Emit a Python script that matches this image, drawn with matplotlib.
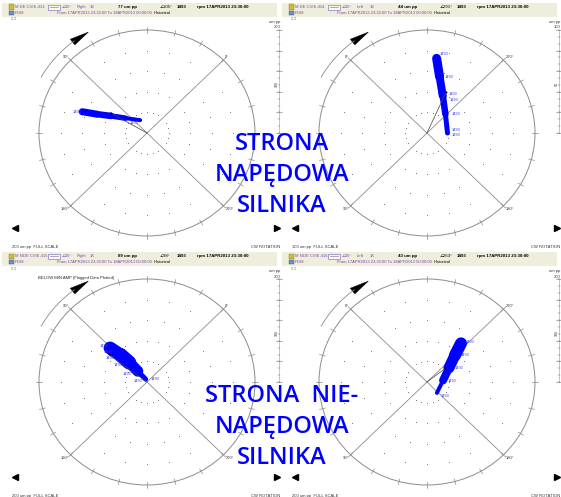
import numpy as np
import matplotlib
matplotlib.use('Agg')
import matplotlib.pyplot as plt
from matplotlib.patches import Circle, Rectangle, Polygon
from matplotlib.collections import LineCollection

W, H = 561, 497          # figure size, px
PW, PH = 280, 249        # one plot panel, px
AW = 284                 # axes width (scale bar sits just past the panel)
CX, CY = 147, 133        # polar centre inside a panel, px
RX, RY = 108, 103        # px per full scale along x / y

# ---- probe data ----
probe_names = ['M DE CVIE-413', 'M DE CVIE-414', 'M NDE CVIE-415', 'M NDE CVIE-416']
probe_side = ['Right', 'Left', 'Right', 'Left']
full_scale = [200, 100, 200, 200]          # um pp
amp_1x = [77, 44, 89, 43]                  # um pp
phase_1x = [105, 291, 98, 263]             # deg
rpm = [1493, 1493, 1493, 1493]
zero_at = [45, 135, 45, 135]               # where 0 deg sits, ccw from +x

# 1X vector history over the half hour (amplitude um pp, phase deg)
trail_amp = [
    [127, 100, 74, 49, 28],
    [73, 56, 39, 25, 19],
    [95, 72, 50, 27, 6],
    [98, 73, 49, 30, 28],
]
trail_phase = [
    [116, 113.5, 108.5, 99, 72],
    [308, 303, 293, 272, 225],
    [91, 88, 86, 84, 70],
    [275, 270, 259, 231, 176],
]

time_from = '17APR2013 23:30:00'
time_to = '18APR2013 00:00:00'

# trail thickness per segment, px
trail_px = [[7, 6.5, 5.5, 4], [9, 8, 6.5, 5], [13, 14, 11, 5], [12, 11, 8, 4]]
# where the rpm tags go along each trail: (point index, dx, dy in px, ha)
tag_spots = [
    [(0, -1, 0, 'right'), (4, -6, -3, 'center')],
    [(0, 3, 4, 'left'), (1, 5, 0, 'left'), (2, 6, 2, 'left'), (2, 7, -4, 'left'),
     (3, 6, 0, 'left'), (4, 4, 3, 'left'), (4, 4, -2, 'left')],
    [(0, -2, 2, 'right'), (1, -8, 3, 'right'), (1, -6, -3, 'right'), (2, -7, -2, 'right'),
     (3, -6, -3, 'right'), (4, -3, -2, 'right'), (4, 5, 0, 'left')],
    [(0, 5, 1, 'left'), (1, 6, 0, 'left'), (2, 6, 0, 'left'), (3, 5, -1, 'left'),
     (4, 4, -3, 'left')],
]

PURPLE = '#7a4aa8'
GREY = '#8c8c8c'
BLUE = '#0000ff'
SMALL = ['Liberation Sans', 'DejaVu Sans']

fig = plt.figure(figsize=(W / 100, H / 100), dpi=100)
fig.patch.set_facecolor('white')


def to_xy(amp, ph, zero):
    a = np.deg2rad(zero + np.asarray(ph, dtype=float))
    return np.asarray(amp) * np.cos(a), np.asarray(amp) * np.sin(a)


def pt(px):
    return np.asarray(px) * 0.72


def draw_panel(k):
    col, row = k % 2, k // 2
    ox, oy = col * PW, row * PH
    fs = full_scale[k]
    zero = zero_at[k]
    ax = fig.add_axes([ox / W, 1 - (oy + PH) / H, AW / W, PH / H])
    ax.set_xlim(-CX / RX * fs, (AW - CX) / RX * fs)
    ax.set_ylim((CY - PH) / RY * fs, CY / RY * fs)
    ax.axis('off')

    def T(x, y, s, **kw):
        kw.setdefault('fontsize', 3)
        kw.setdefault('family', SMALL)
        kw.setdefault('va', 'center')
        ax.text(x / AW, 1 - y / PH, s, transform=ax.transAxes, clip_on=False, **kw)

    def R(x0, y0, x1, y1, **kw):
        ax.add_patch(Rectangle((x0 / AW, 1 - y1 / PH), (x1 - x0) / AW, (y1 - y0) / PH,
                               transform=ax.transAxes, clip_on=False, **kw))

    # header band
    R(2, 3, 277, 17, fc='#efeedd', ec='none', lw=0)
    R(9, 4.5, 14, 9.5, fc='#d9b43a', ec='#6d8b3a', lw=0.3)
    R(9, 10.5, 14, 15, fc='#6f8fc0', ec='#405a88', lw=0.3)
    R(48, 5, 60, 9.5, fc='#fffbe0', ec='#6a5acd', lw=0.4)
    ax.plot([50 / AW, 58 / AW], [1 - 7.2 / PH] * 2, color='#6a5acd', lw=0.4,
            transform=ax.transAxes, clip_on=False)
    T(15, 7.3, probe_names[k], color=PURPLE)
    T(62, 7.3, '\u222045\u00b0', color=PURPLE)
    T(77, 7.3, probe_side[k], color=PURPLE)
    T(90, 7.3, '1X', color=PURPLE)
    T(118, 7.3, f'{amp_1x[k]} um pp', color='black', fontweight='bold', fontsize=3.2)
    T(160, 7.3, f'\u2220{phase_1x[k]}\u00b0', color='black', fontsize=3.2)
    T(177, 7.3, f'{rpm[k]}', color='black', fontweight='bold', fontsize=3.2)
    T(197, 7.3, f'rpm {time_from}', color='black', fontweight='bold', fontsize=3.2)
    T(15, 13, 'P108', color=PURPLE)
    T(57, 13, f'From {time_from} To {time_to}', color=PURPLE)
    T(154, 13, 'Historical', color='black')
    T(11, 19.5, '\u2021 \u2021', color='#333333', fontsize=2.6)
    if k == 2:
        T(38, 29, 'BELOW MIN AMP (Flagged Data Plotted)', color='#222222')

    # grid dots
    for rr in (0.2, 0.4, 0.6, 0.8):
        ang = np.deg2rad([a for a in range(0, 360, 15) if a % 90 != 45])
        ax.scatter(rr * fs * np.cos(ang), rr * fs * np.sin(ang), s=0.4,
                   color='#666666', lw=0, zorder=1)

    # outer ring, ticks, quadrant lines
    ax.add_patch(Circle((0, 0), fs, fill=False, ec=GREY, lw=0.7, zorder=2))
    for a in np.deg2rad(np.arange(0, 360, 15)):
        ax.plot([0.975 * fs * np.cos(a), 1.03 * fs * np.cos(a)],
                [0.975 * fs * np.sin(a), 1.03 * fs * np.sin(a)], color=GREY, lw=0.5)
    for m, (dx, dy, ha, va) in zip((45, 135, 225, 315),
                                   ((2, 1, 'left', 'bottom'), (-2, 1, 'right', 'bottom'),
                                    (-2, -1, 'right', 'top'), (2, -1, 'left', 'top'))):
        a = np.deg2rad(m)
        ax.plot([0, fs * np.cos(a)], [0, fs * np.sin(a)], color=GREY, lw=0.6, zorder=2)
        ax.annotate(f'{(m - zero) % 360}\u00b0', (fs * np.cos(a), fs * np.sin(a)),
                    xytext=(pt(dx), pt(dy)), textcoords='offset points', ha=ha, va=va,
                    fontsize=3, family=SMALL, color='#333333', annotation_clip=False)

    # rotation arrow
    arc = np.deg2rad(np.linspace(151, 127, 30))
    ax.plot(1.12 * fs * np.cos(arc), 1.12 * fs * np.sin(arc), color=GREY, lw=0.6,
            clip_on=False)
    tip, base = np.deg2rad(119), np.deg2rad(128)
    head = [(1.12 * fs * np.cos(tip), 1.12 * fs * np.sin(tip)),
            (1.085 * fs * np.cos(base), 1.085 * fs * np.sin(base)),
            (1.155 * fs * np.cos(base), 1.155 * fs * np.sin(base))]
    ax.add_patch(Polygon(head, closed=True, fc='black', ec='black', lw=0.3, clip_on=False))

    # vector trail
    tx, ty = to_xy(trail_amp[k], trail_phase[k], zero)
    segs = [[(tx[i], ty[i]), (tx[i + 1], ty[i + 1])] for i in range(len(tx) - 1)]
    ax.add_collection(LineCollection(segs, linewidths=pt(trail_px[k]), colors=BLUE,
                                     capstyle='round', joinstyle='round', zorder=4))
    for i, dx, dy, ha in tag_spots[k]:
        ax.annotate(f'{rpm[k]}', (tx[i], ty[i]), xytext=(pt(dx), pt(dy)),
                    textcoords='offset points', ha=ha, va='center', fontsize=2.8,
                    family=SMALL, color='#3a3ae8', zorder=5)

    # present 1X vector
    vx, vy = to_xy(amp_1x[k], phase_1x[k], zero)
    ax.plot([0, vx], [0, vy], color='#444444', lw=0.5, zorder=5)
    ax.scatter([vx], [vy], s=2, color='black', zorder=6, lw=0)

    # amplitude scale bar
    sx = (279 - CX) / RX * fs
    ax.plot([sx, sx], [0, fs], color='#9a9a9a', lw=0.4, clip_on=False)
    for v in np.arange(0, fs + 0.1, fs / 15):
        ax.plot([sx - 0.012 * fs, sx + 0.012 * fs], [v, v], color='#777777', lw=0.35,
                clip_on=False)
    for v in np.arange(0, fs + 0.1, fs / 5):
        ax.plot([sx - 0.025 * fs, sx + 0.025 * fs], [v, v], color='#777777', lw=0.4,
                clip_on=False)
    T(280.5, 22, 'um pp', color='#333333', ha='right')
    T(280.5, 27.5, f'{fs}', color='#333333', ha='right')
    T(277, 84, f'{fs // 2}', color='#333333', ha='center', rotation=90, fontsize=2.6)

    # footer
    ax.plot([15 / AW], [1 - 228 / PH], marker='<', ms=4, color='black',
            transform=ax.transAxes, clip_on=False)
    ax.plot([277 / AW], [1 - 228 / PH], marker='>', ms=4, color='black',
            transform=ax.transAxes, clip_on=False)
    T(12, 247, f'{fs} um pp  FULL SCALE', color='#333333')
    T(280.5, 247, 'CW ROTATION', color='#333333', ha='right')


for k in range(4):
    draw_panel(k)

# side labels over the plots
big = dict(ha='center', va='baseline', fontsize=17, color=BLUE,
           family=['Open Sans', 'DejaVu Sans'], fontweight='semibold')
for txt, y in (('STRONA', 150), ('NAP\u0118DOWA', 181), ('SILNIKA', 212)):
    fig.text(282 / W, 1 - y / H, txt, **big)
for txt, y in (('STRONA  NIE-', 402), ('NAP\u0118DOWA', 433), ('SILNIKA', 464)):
    fig.text(282 / W, 1 - y / H, txt, **big)

fig.savefig('out.png', dpi=100)
